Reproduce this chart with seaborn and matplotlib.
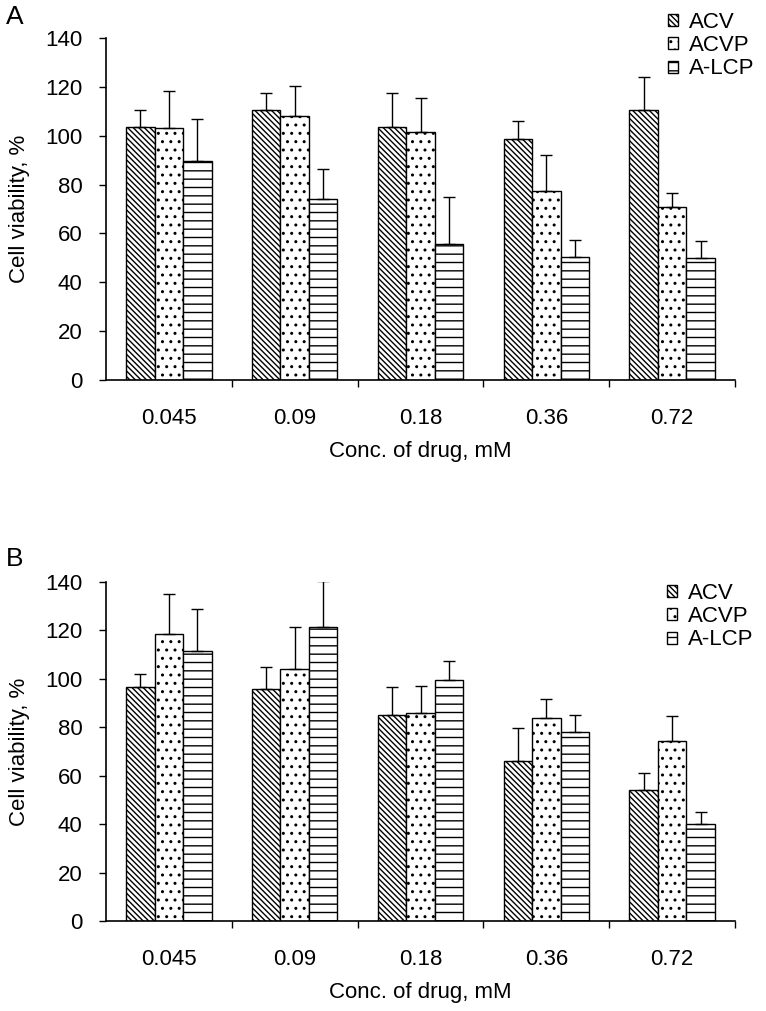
import numpy as np
import pandas as pd
import matplotlib
matplotlib.use("Agg")
import matplotlib.pyplot as plt
import seaborn as sns

# ---------------- data ----------------
conc = ["0.045", "0.09", "0.18", "0.36", "0.72"]
series = ["ACV", "ACVP", "A-LCP"]

# Panel A: means and upper error (SD)
a_acv = [103.5, 110.5, 103.5, 98.5, 110.5]
a_acvp = [103.0, 108.0, 101.5, 77.5, 71.0]
a_alcp = [89.5, 74.0, 55.5, 50.5, 50.0]
a_acv_err = [7.0, 7.0, 14.0, 7.5, 13.5]
a_acvp_err = [15.5, 12.5, 14.0, 14.5, 5.5]
a_alcp_err = [17.5, 12.5, 19.5, 7.0, 7.0]

# Panel B
b_acv = [96.5, 96.0, 85.0, 66.0, 54.0]
b_acvp = [118.5, 104.0, 86.0, 84.0, 74.5]
b_alcp = [111.5, 121.5, 99.5, 78.0, 40.0]
b_acv_err = [5.5, 9.0, 11.5, 13.5, 7.0]
b_acvp_err = [16.5, 17.5, 11.0, 7.5, 10.0]
b_alcp_err = [17.5, 19.0, 8.0, 7.0, 5.0]

yticks = [0, 20, 40, 60, 80, 100, 120, 140]
xlabel = "Conc. of drug, mM"
ylabel = "Cell viability, %"
hatches = ["\\\\\\\\\\\\", "..", "--"]

sns.set_style("ticks")
plt.rcParams["font.family"] = ["Liberation Sans", "DejaVu Sans"]
plt.rcParams["hatch.linewidth"] = 1.0
plt.rcParams["hatch.color"] = "black"
for k in ["text.color", "axes.labelcolor", "xtick.color", "ytick.color",
          "axes.edgecolor"]:
    plt.rcParams[k] = "black"

FS = 16
W, H = 766, 1011
fig = plt.figure(figsize=(W / 100, H / 100), dpi=100)


def make_df(vals, errs):
    rows = []
    for s, v, e in zip(series, vals, errs):
        for c, vi, ei in zip(conc, v, e):
            rows.append({"conc": c, "series": s, "value": vi, "err": ei})
    return pd.DataFrame(rows)


def panel(rect, vals, errs, letter, letter_xy, legend_anchor):
    ax = fig.add_axes(rect)
    df = make_df(vals, errs)
    sns.barplot(data=df, x="conc", y="value", hue="series", order=conc,
                hue_order=series, palette=["white"] * 3, edgecolor="black",
                linewidth=1.0, width=0.68, gap=0, errorbar=None, ax=ax,
                legend=False, saturation=1)
    for cont, h, s in zip(ax.containers, hatches, series):
        sub = df[df["series"] == s].set_index("conc").loc[conc]
        xs, ys = [], []
        for p in cont.patches:
            p.set_hatch(h)
            p.set_facecolor("white")
            p.set_edgecolor("black")
            xs.append(p.get_x() + p.get_width() / 2)
            ys.append(p.get_height())
        e = sub["err"].to_numpy()
        ax.errorbar(xs, ys, yerr=[np.zeros_like(e), e], fmt="none",
                    ecolor="black", elinewidth=1.0, capsize=4, capthick=1.0,
                    zorder=1)
    ax.set_ylim(0, 140)
    ax.set_xlim(-0.5, 4.5)
    ax.set_yticks(yticks)
    ax.set_xticks(range(len(conc)))
    ax.set_xticklabels(conc)
    ax.set_xticks(np.arange(0.5, len(conc), 1.0), minor=True)
    ax.tick_params(axis="x", which="major", length=0, pad=20.5, labelsize=FS)
    ax.tick_params(axis="x", which="minor", length=5, width=1, direction="out")
    ax.tick_params(axis="y", length=5, width=1, pad=12, labelsize=FS)
    for sp in ["top", "right"]:
        ax.spines[sp].set_visible(False)
    for sp in ["left", "bottom"]:
        ax.spines[sp].set_linewidth(1.2)
    ax.set_xlabel(xlabel, fontsize=FS, labelpad=8.5)
    ax.set_ylabel(ylabel, fontsize=FS, labelpad=11)
    fig.text(letter_xy[0], letter_xy[1], letter, fontsize=19, ha="left", va="center")
    ax.legend(handles=list(ax.containers), labels=series, frameon=False,
              fontsize=FS, handlelength=0.45, handleheight=0.45,
              handletextpad=0.5, labelspacing=0.1, borderpad=0,
              borderaxespad=0, loc="upper left", bbox_to_anchor=legend_anchor,
              bbox_transform=fig.transFigure)
    return ax


panel([106 / W, 1 - 380 / H, 629 / W, 342 / H],
      [a_acv, a_acvp, a_alcp], [a_acv_err, a_acvp_err, a_alcp_err],
      "A", (6 / W, 1 - 17 / H), (668 / W, 1 - 12 / H))
panel([106 / W, 1 - 921 / H, 629 / W, 339 / H],
      [b_acv, b_acvp, b_alcp], [b_acv_err, b_acvp_err, b_alcp_err],
      "B", (6 / W, 1 - 559 / H), (667 / W, 1 - 583 / H))

fig.savefig("out.png", dpi=100)
